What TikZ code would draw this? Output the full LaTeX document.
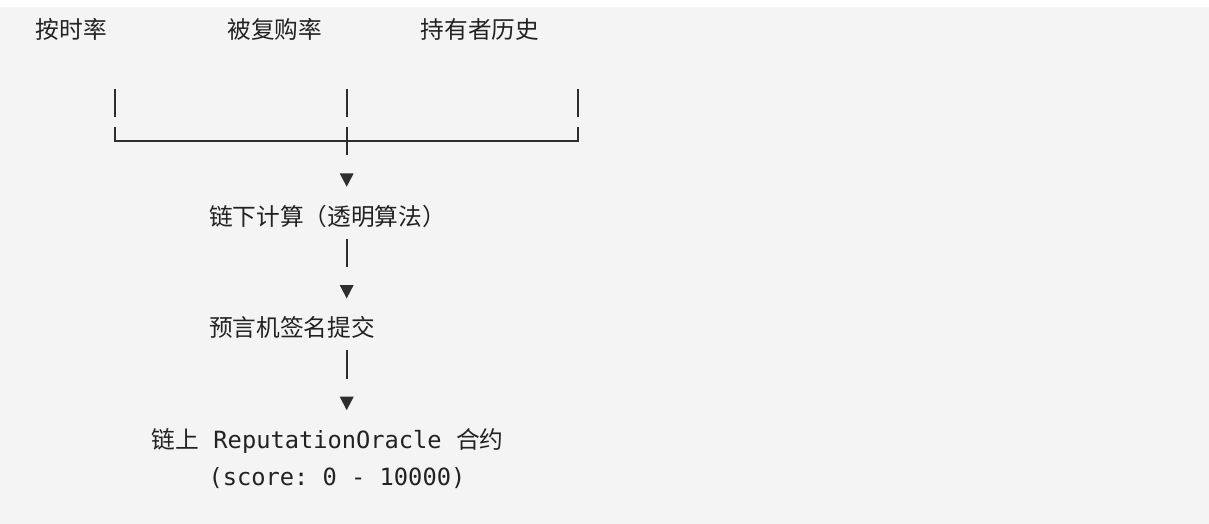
\documentclass[tikz,border=0pt]{standalone}
\usepackage{fontspec}
\setmonofont{DejaVu Sans Mono}
\newfontfamily\cjk{Noto Sans CJK SC}
\definecolor{bgc}{HTML}{F4F4F4}
\definecolor{inkc}{HTML}{222222}
\definecolor{linec}{HTML}{2E2E2E}
\begin{document}
\begin{tikzpicture}[x=1pt,y=-1pt,
  cjktext/.style={anchor=base west, inner sep=0pt, outer sep=0pt, text=inkc, font=\fontsize{23.7}{28}\selectfont\cjk},
  monotext/.style={anchor=base west, inner sep=0pt, outer sep=0pt, text=inkc, font=\fontsize{23.7}{28}\selectfont\ttfamily},
  conn/.style={draw=linec, line width=1.7pt},
  arrowtri/.style={fill=linec}]
% background
\useasboundingbox (0,0) rectangle (1209,524);
\fill[white] (0,0) rectangle (1209,524);
\fill[bgc] (0,7) rectangle (1209,524);

% row 1 labels
\node[cjktext] (ontime) at (35.8,38.2) {按时率};
\node[cjktext] (rebuy) at (227.5,38.2) {被复购率};
\node[cjktext] (holder) at (420.8,38.2) {持有者历史};

% top bars
\coordinate (b1t) at (115.3,89.5);  \coordinate (b1b) at (115.3,117.5);
\coordinate (b2t) at (346.7,89.5);  \coordinate (b2b) at (346.7,117.5);
\coordinate (b3t) at (578,89.5);    \coordinate (b3b) at (578,117.5);
\draw[conn] (b1t) -- (b1b);
\draw[conn] (b2t) -- (b2b);
\draw[conn] (b3t) -- (b3b);

% bottom bracket
\coordinate (c1t) at (115.3,127);  \coordinate (c1b) at (115.3,140.7);
\coordinate (c3t) at (578,127);    \coordinate (c3b) at (578,140.7);
\coordinate (c2t) at (346.7,127);  \coordinate (c2b) at (346.7,155);
\draw[conn] (c1t) -- (c1b) -- (c3b) -- (c3t);
\draw[conn] (c2t) -- (c2b);

% arrow 1
\fill[arrowtri] (339.7,173.3) -- (353.7,173.3) -- (346.7,186.7) -- cycle;

\node[cjktext] (offchain) at (209,225.2) {链下计算（透明算法）};

\coordinate (d1t) at (346.7,238.5); \coordinate (d1b) at (346.7,267);
\draw[conn] (d1t) -- (d1b);
\fill[arrowtri] (339.7,285) -- (353.7,285) -- (346.7,298.4) -- cycle;

\node[cjktext] (oracle) at (209,336.7) {预言机签名提交};

\coordinate (d2t) at (346.7,350); \coordinate (d2b) at (346.7,378.5);
\draw[conn] (d2t) -- (d2b);
\fill[arrowtri] (339.7,396.7) -- (353.7,396.7) -- (346.7,410.1) -- cycle;

\node[monotext] (onchain) at (151.8,448) {{\cjk 链上} ReputationOracle {\cjk 合约}};
\node[monotext] (score) at (208.5,485) {(score: 0 - 10000)};
\end{tikzpicture}
\end{document}
